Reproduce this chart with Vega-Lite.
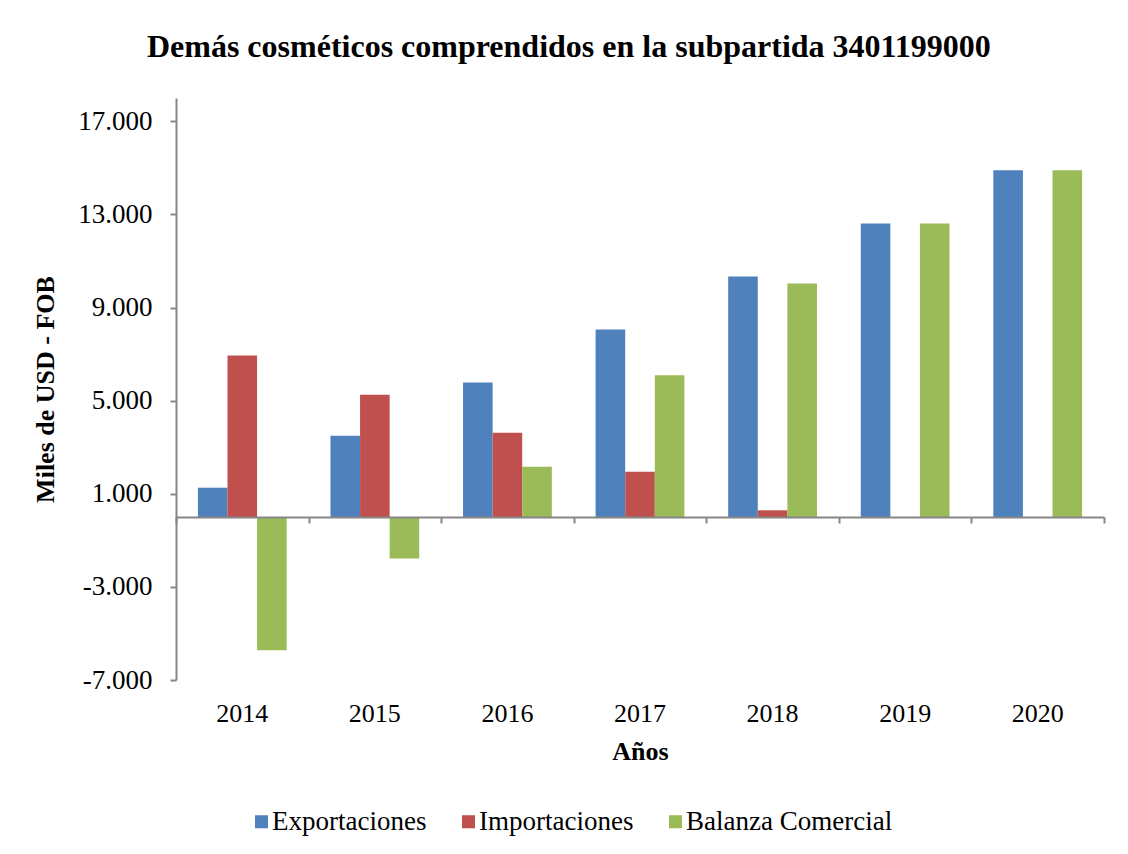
{
  "$schema": "https://vega.github.io/schema/vega-lite/v6.json",
  "width": 928,
  "height": 582,
  "padding": {"left": 32, "top": 31, "right": 20, "bottom": 10},
  "background": "white",
  "config": {"font": "Liberation Serif", "view": {"stroke": null}},
  "title": {
    "text": "Demás cosméticos comprendidos en la subpartida 3401199000",
    "fontSize": 32,
    "fontWeight": "bold",
    "font": "Liberation Serif",
    "color": "black",
    "anchor": "middle",
    "frame": "bounds",
    "offset": 34
  },
  "data": {
    "values": [
      {"year": "2014", "serie": "Exportaciones", "value": 1260},
      {"year": "2014", "serie": "Importaciones", "value": 6935},
      {"year": "2014", "serie": "Balanza Comercial", "value": -5720},
      {"year": "2015", "serie": "Exportaciones", "value": 3495},
      {"year": "2015", "serie": "Importaciones", "value": 5258},
      {"year": "2015", "serie": "Balanza Comercial", "value": -1780},
      {"year": "2016", "serie": "Exportaciones", "value": 5774},
      {"year": "2016", "serie": "Importaciones", "value": 3624},
      {"year": "2016", "serie": "Balanza Comercial", "value": 2155},
      {"year": "2017", "serie": "Exportaciones", "value": 8054},
      {"year": "2017", "serie": "Importaciones", "value": 1946},
      {"year": "2017", "serie": "Balanza Comercial", "value": 6090},
      {"year": "2018", "serie": "Exportaciones", "value": 10333},
      {"year": "2018", "serie": "Importaciones", "value": 290},
      {"year": "2018", "serie": "Balanza Comercial", "value": 10032},
      {"year": "2019", "serie": "Exportaciones", "value": 12613},
      {"year": "2019", "serie": "Importaciones", "value": 0},
      {"year": "2019", "serie": "Balanza Comercial", "value": 12613},
      {"year": "2020", "serie": "Exportaciones", "value": 14892},
      {"year": "2020", "serie": "Importaciones", "value": 0},
      {"year": "2020", "serie": "Balanza Comercial", "value": 14892}
    ]
  },
  "layer": [
    {
      "mark": {"type": "bar"},
      "encoding": {
        "x": {
          "field": "year",
          "type": "nominal",
          "scale": {"paddingInner": 0, "paddingOuter": 0},
          "axis": {
            "orient": "bottom",
            "title": "Años",
            "titleFontSize": 26,
            "titleFontWeight": "bold",
            "titleColor": "black",
            "titlePadding": 12,
            "domain": false,
            "ticks": false,
            "labelAngle": 0,
            "labelFontSize": 26,
            "labelColor": "black",
            "labelPadding": 20
          }
        },
        "xOffset": {
          "field": "serie",
          "type": "nominal",
          "scale": {"domain": ["Exportaciones", "Importaciones", "Balanza Comercial"], "paddingOuter": 0.74, "paddingInner": 0}
        },
        "y": {
          "field": "value",
          "type": "quantitative",
          "scale": {"domain": [-7000, 18000], "nice": false, "zero": false},
          "axis": {
            "title": "Miles de USD - FOB",
            "titleFontSize": 26,
            "titleFontWeight": "bold",
            "titleColor": "black",
            "titlePadding": 19,
            "values": [-7000, -3000, 1000, 5000, 9000, 13000, 17000],
            "labelExpr": "(datum.value/1000) + '.000'",
            "labelFontSize": 27,
            "labelColor": "black",
            "labelPadding": 18,
            "tickSize": 6,
            "tickWidth": 2,
            "tickColor": "#868686",
            "domainColor": "#868686",
            "domainWidth": 2,
            "grid": false
          }
        },
        "color": {
          "field": "serie",
          "type": "nominal",
          "scale": {"domain": ["Exportaciones", "Importaciones", "Balanza Comercial"], "range": ["#4F81BD", "#C0504D", "#9BBB59"]},
          "legend": {
            "orient": "none",
            "legendX": 72,
            "legendY": 710,
            "direction": "horizontal",
            "title": null,
            "symbolType": "square",
            "symbolSize": 170,
            "symbolStrokeWidth": 0,
            "labelFontSize": 27,
            "labelColor": "black",
            "labelLimit": 0,
            "labelOffset": -3,
            "columnPadding": 28
          }
        }
      }
    },
    {
      "mark": {"type": "bar", "opacity": 0},
      "encoding": {
        "x": {
          "field": "year",
          "type": "nominal",
          "axis": {
            "orient": "bottom",
            "offset": -163,
            "labels": false,
            "title": null,
            "tickBand": "extent",
            "domainColor": "#868686",
            "domainWidth": 2,
            "tickColor": "#868686",
            "tickWidth": 2,
            "tickSize": 6,
            "zindex": 1
          }
        }
      }
    }
  ],
  "resolve": {"axis": {"x": "independent"}}
}
